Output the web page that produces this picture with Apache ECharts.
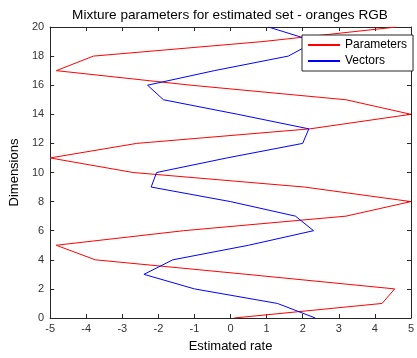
<!DOCTYPE html>
<html><head><meta charset="utf-8">
<script src="https://cdn.jsdelivr.net/npm/echarts@6/dist/echarts.min.js"></script>
<style>html,body{margin:0;padding:0;background:#fff}#c{width:417px;height:358px}</style>
</head><body><div id="c"></div>
<script>
const dims = [0,1,2,3,4,5,6,7,8,9,10,11,12,13,14,15,16,17,18,19,20];
const parameters = [0.1, 4.2, 4.55, 0.45, -3.75, -4.83, -1.3, 3.2, 5.0, 2.05, -2.7, -5.0, -2.6, 2.2, 5.0, 3.2, -1.1, -4.83, -3.8, 0.9, 4.6];
const vectors = [2.35, 1.3, -1.0, -2.4, -1.6, 0.5, 2.3, 1.8, 0.0, -2.2, -2.05, -0.1, 2.0, 2.17, 0.2, -1.86, -2.3, -0.45, 1.6, 2.35, 1.05];
const xTicks = [-5,-4,-3,-2,-1,0,1,2,3,4,5];
const yTicks = [0,2,4,6,8,10,12,14,16,18,20];

const font = 'Liberation Sans, Arial, sans-serif';
const chart = echarts.init(document.getElementById('c'), null, {renderer:'canvas'});
const axisCommon = {
  axisLine:{show:true,onZero:false,lineStyle:{color:'#262626',width:1}},
  axisTick:{show:true,inside:true,length:4,lineStyle:{color:'#262626'}},
  splitLine:{show:false}
};
chart.setOption({
  animation:false,
  backgroundColor:'#fff',
  title:{text:'Mixture parameters for estimated set - oranges RGB',left:225,top:3,textAlign:'center',
    textStyle:{fontFamily:font,fontSize:13.6,fontWeight:'normal',color:'#000'}},
  grid:{left:41,right:2,top:27,bottom:35,show:false},
  legend:{show:true,left:302,top:35,orient:'vertical',itemWidth:32,itemHeight:2,itemGap:4,icon:'rect',
    padding:[4,6,4,6],backgroundColor:'#fff',borderColor:'#262626',borderWidth:1,borderRadius:0,
    textStyle:{fontFamily:font,fontSize:12,color:'#000'},
    data:[{name:'Parameters',itemStyle:{color:'#ff0000'}},{name:'Vectors',itemStyle:{color:'#0000ff'}}]},
  xAxis:[
    Object.assign({type:'value',min:xTicks[0],max:xTicks[xTicks.length-1],interval:1,
      name:'Estimated rate',nameLocation:'middle',nameGap:22,
      nameTextStyle:{fontFamily:font,fontSize:13,color:'#000'},
      axisLabel:{fontFamily:font,fontSize:11,color:'#333',margin:5}},axisCommon),
    Object.assign({type:'value',position:'top',min:xTicks[0],max:xTicks[xTicks.length-1],interval:1,
      axisLabel:{show:false}},axisCommon)
  ],
  yAxis:[
    Object.assign({type:'value',min:yTicks[0],max:yTicks[yTicks.length-1],interval:2,
      name:'Dimensions',nameLocation:'middle',nameGap:27,
      nameTextStyle:{fontFamily:font,fontSize:13,color:'#000'},
      axisLabel:{fontFamily:font,fontSize:11,color:'#333',margin:6}},axisCommon),
    Object.assign({type:'value',position:'right',min:yTicks[0],max:yTicks[yTicks.length-1],interval:2,
      axisLabel:{show:false}},axisCommon)
  ],
  series:[
    {name:'Parameters',type:'line',showSymbol:false,symbol:'none',
      lineStyle:{color:'#ff0000',width:1},itemStyle:{color:'#ff0000'},
      data:dims.map((d,i)=>[parameters[i],d])},
    {name:'Vectors',type:'line',showSymbol:false,symbol:'none',
      lineStyle:{color:'#0000ff',width:1},itemStyle:{color:'#0000ff'},
      data:dims.map((d,i)=>[vectors[i],d])}
  ]
});
</script></body></html>
